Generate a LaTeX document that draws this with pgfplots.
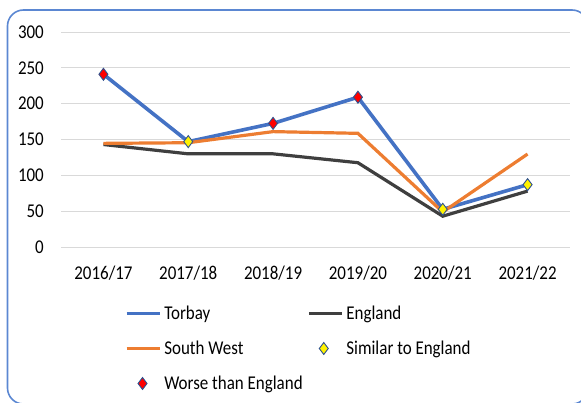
\documentclass[border=0pt]{standalone}
\usepackage{pgfplots}
\pgfplotsset{compat=1.18}
\usepackage{fontspec}
\setmainfont{Carlito}[FakeStretch=0.87]

\definecolor{torbay}{HTML}{4472C4}
\definecolor{england}{HTML}{3F3F3F}
\definecolor{southwest}{HTML}{ED7D31}
\definecolor{markedge}{HTML}{2F528F}
\definecolor{gridcol}{HTML}{D9D9D9}
\definecolor{framecol}{HTML}{5B87D2}

\pgfplotsset{
    markleg/.style={legend image code/.code={\path[draw=none] (0pt,0pt) -- (33.5pt,0pt);
        \draw[##1, only marks] plot coordinates {(#1,0pt)};}},
    lineleg/.style={legend image code/.code={\draw[##1] (0pt,0pt) -- (33.5pt,0pt);}},
}

\begin{document}
\fontsize{19.5}{22}\selectfont
\begin{tikzpicture}
\useasboundingbox (0pt,0pt) rectangle (581pt,-403pt);
\draw[framecol, line width=1.6pt, rounded corners=16pt] (7.5pt,-10pt) rectangle (588pt,-404pt);
\begin{axis}[
    at={(61pt,-247pt)}, anchor=south west,
    scale only axis, width=509pt, height=215pt,
    xmin=-0.5, xmax=5.5, ymin=0, ymax=300,
    xtick={0,1,2,3,4,5},
    xticklabels={2016/17,2017/18,2018/19,2019/20,2020/21,2021/22},
    ytick={0,50,100,150,200,250,300},
    ymajorgrids, grid style={gridcol, line width=1pt},
    axis line style={draw=none},
    major tick length=0pt,
    /pgf/number format/assume math mode=true,
    yticklabel style={inner sep=0pt, xshift=-17pt},
    xticklabel style={inner sep=0pt, yshift=-18.5pt},
    legend columns=2,
    legend cell align=left,
    legend style={at={(axis description cs:0.1248,-0.279)}, anchor=north west,
        draw=none, fill=none, inner sep=0pt, row sep=22.4pt,
        nodes={inner sep=0pt, text height=12.6pt, text depth=0pt},
        /tikz/every odd column/.append style={column sep=2.5pt},
        /tikz/every even column/.append style={column sep=4.5pt}},
]
\addplot[torbay, line width=3.6pt, lineleg] coordinates {
    (0,241) (1,147) (2,172.5) (3,209) (4,52.6) (5,87)};
\addlegendentry{Torbay}
\addplot[england, line width=3.2pt, lineleg] coordinates {
    (0,143) (1,130) (2,130) (3,117.6) (4,43) (5,78)};
\addlegendentry{England}
\addplot[southwest, line width=3.2pt, lineleg] coordinates {
    (0,144.6) (1,145.5) (2,161) (3,158.6) (4,48.8) (5,129.7)};
\addlegendentry{South West}
\addplot[only marks, mark=diamond*, mark size=6pt,
    mark options={fill=yellow, draw=markedge, line width=0.9pt},
    markleg=15pt] coordinates {
    (1,147) (4,52.6) (5,87)};
\addlegendentry{Similar to England}
\addplot[only marks, mark=diamond*, mark size=6pt,
    mark options={fill=red, draw=markedge, line width=0.9pt},
    markleg=16pt] coordinates {
    (0,241) (2,172.5) (3,209)};
\addlegendentry{Worse than England}
\end{axis}
\end{tikzpicture}
\end{document}
